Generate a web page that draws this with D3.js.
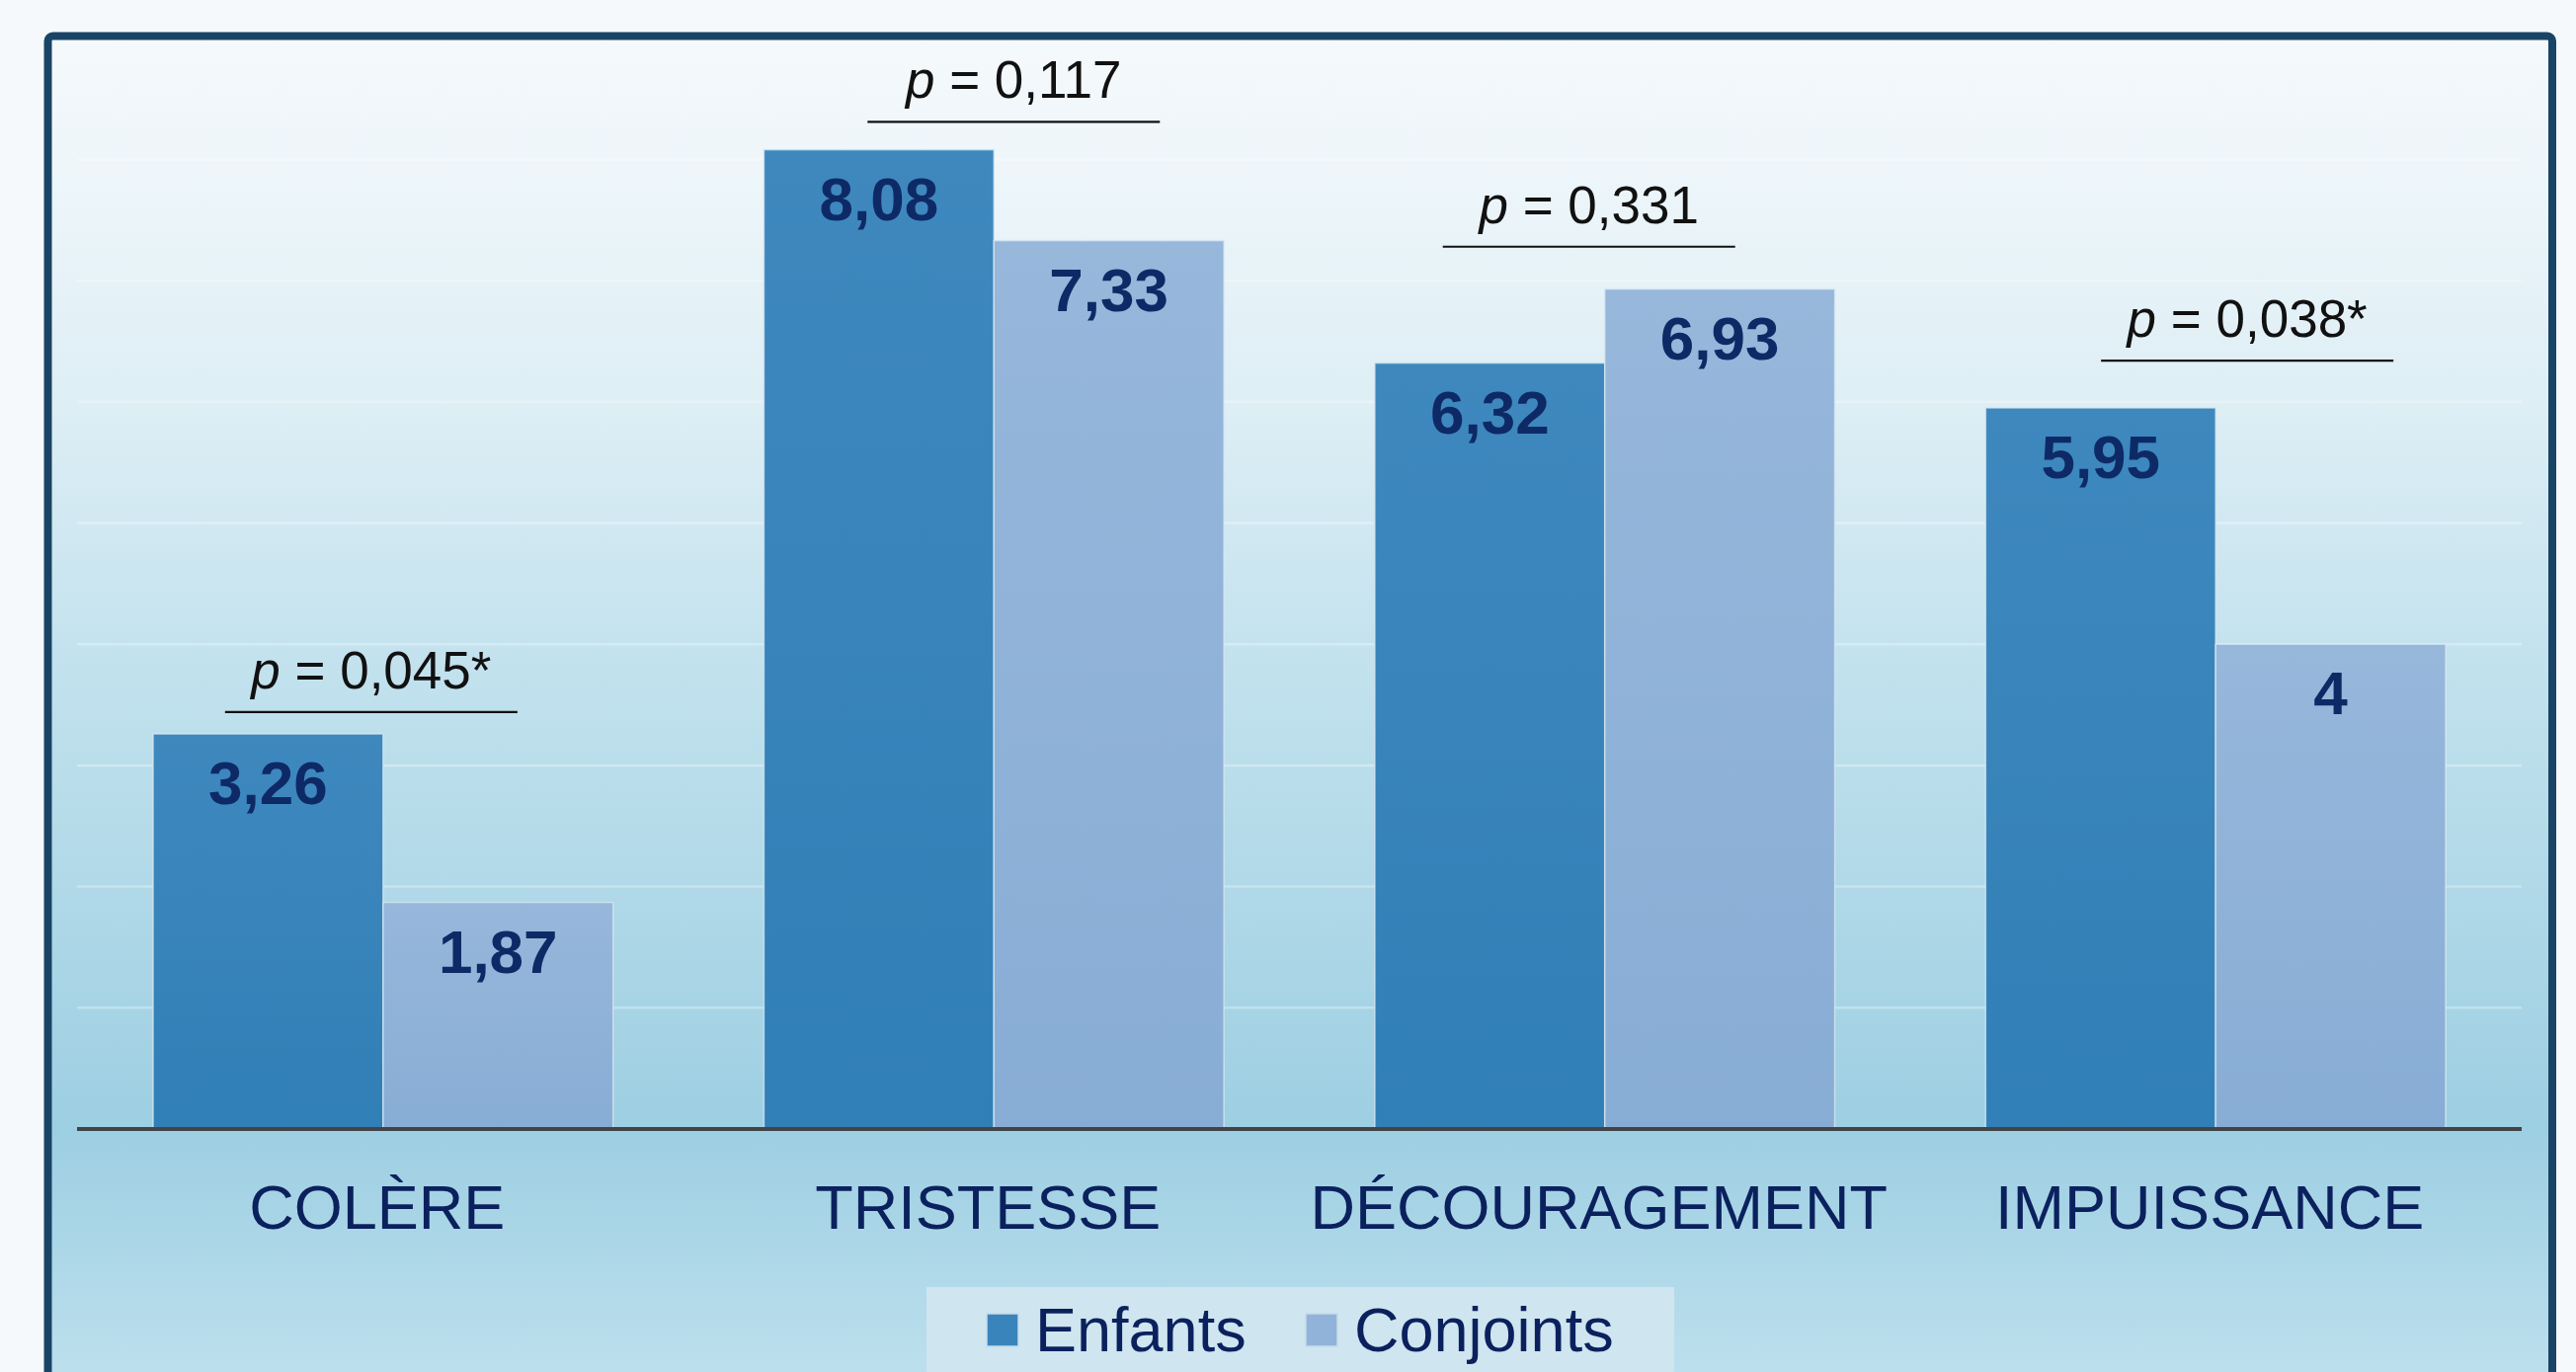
<!DOCTYPE html>
<html>
<head>
<meta charset="utf-8">
<script src="https://cdn.jsdelivr.net/npm/d3@7"></script>
<style>
  html, body { margin: 0; padding: 0; background: #f5f9fc; }
  svg { display: block; font-family: "Liberation Sans", Arial, sans-serif; }
</style>
</head>
<body>
<svg id="chart"></svg>
<script>
const categories = ['COLÈRE', 'TRISTESSE', 'DÉCOURAGEMENT', 'IMPUISSANCE'];
const seriesNames = ['Enfants', 'Conjoints'];
const enfants = [3.26, 8.08, 6.32, 5.95];
const conjoints = [1.87, 7.33, 6.93, 4];
const pValues = ['0,045*', '0,117', '0,331', '0,038*'];
// bracket height above each pair, in chart units
const bracketLevel = [3.44, 8.31, 7.28, 6.34];
const gridTicks = [1, 2, 3, 4, 5, 6, 7, 8];

const W = 2608, H = 1389;
const margin = { left: 78, right: 55, axisY: 1143 };
const unit = 122.7;
// small manual shifts of the p brackets, as in the original slide
const bracketShift = [-12, 20, -16, 32];

const svg = d3.select('#chart').attr('width', W).attr('height', H);
const defs = svg.append('defs');

const bg = defs.append('linearGradient').attr('id', 'bg')
    .attr('gradientUnits', 'userSpaceOnUse')
    .attr('x1', 0).attr('x2', 0).attr('y1', 40).attr('y2', H);
[[0, '#f5f9fb'], [0.093, '#eef6fa'], [0.278, '#ddeef5'], [0.463, '#c3e2ee'],
 [0.818, '#9dcfe2'], [1, '#bcdfed']].forEach(([o, c]) =>
    bg.append('stop').attr('offset', o).attr('stop-color', c));

const barColors = [['#3e88be', '#317fb7'], ['#97b7db', '#88add5']];
barColors.forEach((c, i) => {
    const g = defs.append('linearGradient').attr('id', 'bar' + i)
        .attr('x1', 0).attr('x2', 0).attr('y1', 0).attr('y2', 1);
    g.append('stop').attr('offset', 0).attr('stop-color', c[0]);
    g.append('stop').attr('offset', 1).attr('stop-color', c[1]);
});

// frame
svg.append('rect')
    .attr('x', 48.5).attr('y', 36.5)
    .attr('width', 2535.5).attr('height', 1420)
    .attr('rx', 5)
    .attr('fill', 'url(#bg)')
    .attr('stroke', '#1a4465')
    .attr('stroke-width', 8);

const x = d3.scaleBand()
    .domain(categories)
    .range([margin.left, W - margin.right])
    .paddingInner(0.247)
    .paddingOuter(0.1245);
const xs = d3.scaleBand().domain(seriesNames).range([0, x.bandwidth()]);
const y = d3.scaleLinear()
    .domain([0, 9])
    .range([margin.axisY, margin.axisY - 9 * unit]);

const fr = d3.formatLocale({ decimal: ',', thousands: ' ', grouping: [3], currency: ['', ' €'] });
const fmt = fr.format('~g');

// grid
svg.append('g')
    .selectAll('line')
    .data(gridTicks)
    .join('line')
    .attr('x1', margin.left).attr('x2', W - margin.right)
    .attr('y1', d => y(d)).attr('y2', d => y(d))
    .attr('stroke', '#ffffff')
    .attr('stroke-opacity', 0.3)
    .attr('stroke-width', 2.5);

const rows = categories.map((c, i) => ({ cat: c, vals: [enfants[i], conjoints[i]], i }));

const groups = svg.append('g')
    .selectAll('g')
    .data(rows)
    .join('g')
    .attr('transform', d => `translate(${x(d.cat)},0)`);

const cells = groups.selectAll('g')
    .data(d => d.vals.map((v, k) => ({ v, k, name: seriesNames[k] })))
    .join('g');

cells.append('rect')
    .attr('x', d => xs(d.name))
    .attr('width', xs.bandwidth())
    .attr('y', d => y(d.v))
    .attr('height', d => y(0) - y(d.v))
    .attr('fill', d => `url(#bar${d.k})`)
    .attr('stroke', '#d8e8f2')
    .attr('stroke-opacity', 0.75)
    .attr('stroke-width', 1.5);

cells.append('text')
    .attr('x', d => xs(d.name) + xs.bandwidth() / 2)
    .attr('y', d => y(d.v) + 71)
    .attr('text-anchor', 'middle')
    .attr('font-size', 62)
    .attr('font-weight', 'bold')
    .attr('fill', '#0e2a66')
    .text(d => fmt(d.v));

// p-value brackets
const pg = svg.append('g')
    .selectAll('g')
    .data(rows)
    .join('g')
    .attr('transform', d => `translate(${x(d.cat) + x.bandwidth() / 2 + bracketShift[d.i]},${y(bracketLevel[d.i])})`);

pg.append('line')
    .attr('x1', -148).attr('x2', 148)
    .attr('stroke', '#111')
    .attr('stroke-width', 2.2);

const pt = pg.append('text')
    .attr('y', -24)
    .attr('text-anchor', 'middle')
    .attr('font-size', 53)
    .attr('fill', '#111');
pt.append('tspan').attr('font-style', 'italic').text('p');
pt.append('tspan').text(d => ' = ' + pValues[d.i]);

// axis
svg.append('line')
    .attr('x1', margin.left).attr('x2', W - margin.right)
    .attr('y1', margin.axisY).attr('y2', margin.axisY)
    .attr('stroke', '#424548')
    .attr('stroke-width', 4);

svg.append('g')
    .selectAll('text')
    .data(categories)
    .join('text')
    .attr('x', d => x(d) + x.bandwidth() / 2 - 6)
    .attr('y', 1244)
    .attr('text-anchor', 'middle')
    .attr('font-size', 63)
    .attr('fill', '#0b215e')
    .text(d => d);

// legend
const legend = svg.append('g');
legend.append('rect')
    .attr('x', 938).attr('y', 1303)
    .attr('width', 757).attr('height', 110)
    .attr('fill', '#cfe5ef');
const items = legend.selectAll('g')
    .data(seriesNames)
    .join('g')
    .attr('transform', (d, i) => `translate(${999 + i * 323},0)`);
items.append('rect')
    .attr('y', 1330).attr('width', 32).attr('height', 33)
    .attr('fill', (d, i) => i ? '#92b3d9' : '#3a84bc')
    .attr('stroke', '#c4dbea')
    .attr('stroke-width', 1.5);
items.append('text')
    .attr('x', 49).attr('y', 1368)
    .attr('font-size', 63)
    .attr('fill', '#0b215e')
    .text(d => d);
</script>
</body>
</html>
